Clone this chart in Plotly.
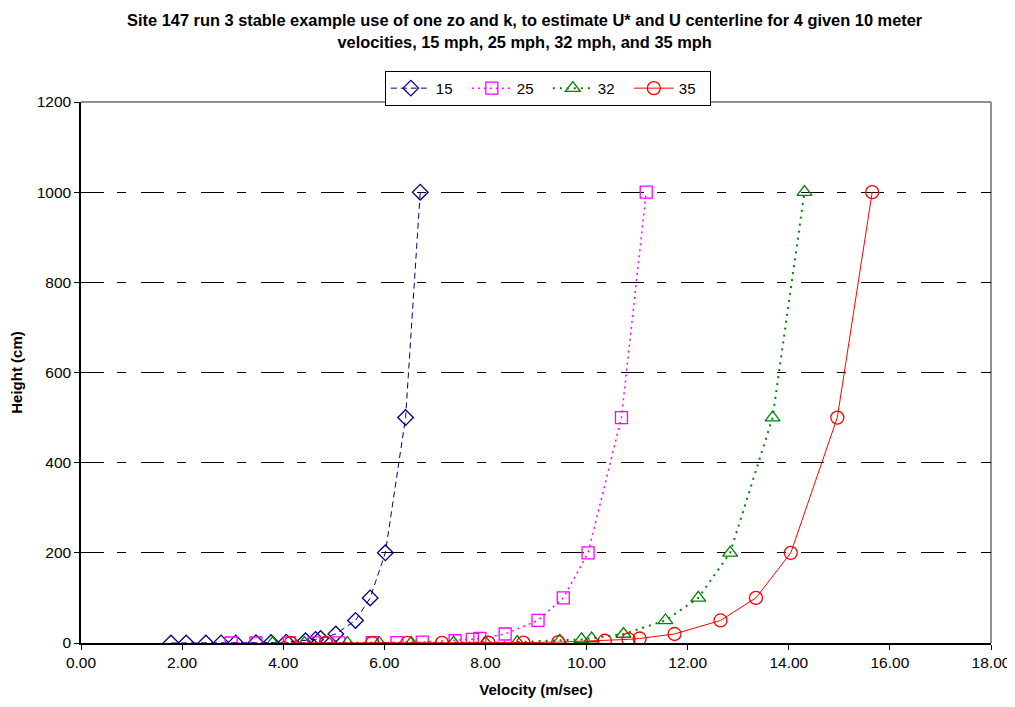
import plotly.graph_objects as go

heights = [0.01, 0.02, 0.05, 0.1, 0.2, 0.5, 1, 2, 5, 8, 10, 20, 50, 100, 200, 500, 1000]
vel_15 = [1.78, 2.08, 2.47, 2.77, 3.06, 3.46, 3.76, 4.06, 4.44, 4.64, 4.74, 5.04, 5.43, 5.72, 6.02, 6.42, 6.71]
vel_25 = [2.97, 3.46, 4.12, 4.61, 5.10, 5.76, 6.25, 6.75, 7.40, 7.74, 7.89, 8.39, 9.04, 9.54, 10.03, 10.69, 11.18]
vel_32 = [3.79, 4.42, 5.27, 5.90, 6.53, 7.37, 8.00, 8.63, 9.47, 9.90, 10.10, 10.73, 11.56, 12.21, 12.84, 13.68, 14.31]
vel_35 = [4.15, 4.84, 5.76, 6.45, 7.14, 8.06, 8.75, 9.44, 10.36, 10.83, 11.05, 11.74, 12.65, 13.35, 14.04, 14.96, 15.65]

series_names = ["15", "25", "32", "35"]
x_ticks = [0, 2, 4, 6, 8, 10, 12, 14, 16, 18]
y_ticks = [0, 200, 400, 600, 800, 1000, 1200]

FONT = "Arial, 'Liberation Sans', sans-serif"

styles = [
    dict(color="#000080", dash="6px,4px", width=1, symbol="diamond-open", size=12),
    dict(color="#FF00FF", dash="2px,4px", width=1.5, symbol="square-open", size=12),
    dict(color="#008000", dash="2px,5px", width=2, symbol="triangle-up-open", size=13),
    dict(color="#FF0000", dash="solid", width=1, symbol="circle-open", size=13),
]

fig = go.Figure()
for name, vel, st in zip(series_names, [vel_15, vel_25, vel_32, vel_35], styles):
    fig.add_trace(go.Scatter(
        x=vel, y=heights, name=name, mode="lines+markers",
        line=dict(color=st["color"], dash=st["dash"], width=st["width"]),
        marker=dict(symbol=st["symbol"], size=st["size"], color=st["color"],
                    line=dict(color=st["color"], width=1.3)),
    ))

fig.update_layout(
    width=1015, height=707,
    margin=dict(l=73, r=32, t=94, b=72, autoexpand=False),
    paper_bgcolor="white", plot_bgcolor="white",
    font=dict(family=FONT, size=15.5, color="black"),
    title=dict(
        text="<b>Site 147 run 3 stable example use of one zo and k, to estimate U* and U centerline for 4 given 10 meter<br>velocities, 15 mph, 25 mph, 32 mph, and 35 mph</b>",
        x=0.509, xanchor="center", y=0.974, yanchor="top",
        font=dict(family=FONT, size=16.4),
    ),
    legend=dict(
        orientation="h", x=0.513, xanchor="center", y=1.0575, yanchor="top",
        bordercolor="black", borderwidth=1, bgcolor="white",
        font=dict(family=FONT, size=15),
        entrywidth=26, itemwidth=40, tracegroupgap=0,
    ),
    showlegend=True,
)

fig.update_xaxes(
    range=[0, 18], tickvals=x_ticks, ticktext=[f"{v:.2f}" for v in x_ticks],
    showgrid=False, zeroline=False, automargin=False,
    showline=True, linecolor="black", linewidth=1.5,
    ticks="outside", ticklen=5, tickcolor="black",
    tickfont=dict(family=FONT, size=15.5),
    title=dict(text="<b>Velocity (m/sec)</b>", font=dict(family=FONT, size=15), standoff=14),
)
fig.update_yaxes(
    range=[0, 1200], tickvals=y_ticks,
    showgrid=True, gridcolor="black", gridwidth=1, griddash="23px,13px,9px,15px",
    zeroline=False, automargin=False,
    showline=True, linecolor="black", linewidth=1.5,
    ticks="outside", ticklen=5, tickcolor="black",
    tickfont=dict(family=FONT, size=15.5),
    title=dict(text="<b>Height (cm)</b>", font=dict(family=FONT, size=15), standoff=17),
)

# gray top and right frame of plot area
fig.add_shape(type="line", xref="paper", yref="paper", x0=0, x1=1, y0=1, y1=1,
              line=dict(color="#909090", width=2), layer="below")
fig.add_shape(type="line", xref="paper", yref="paper", x0=1, x1=1, y0=0, y1=1,
              line=dict(color="#909090", width=2), layer="below")

fig.write_html("out.html")
